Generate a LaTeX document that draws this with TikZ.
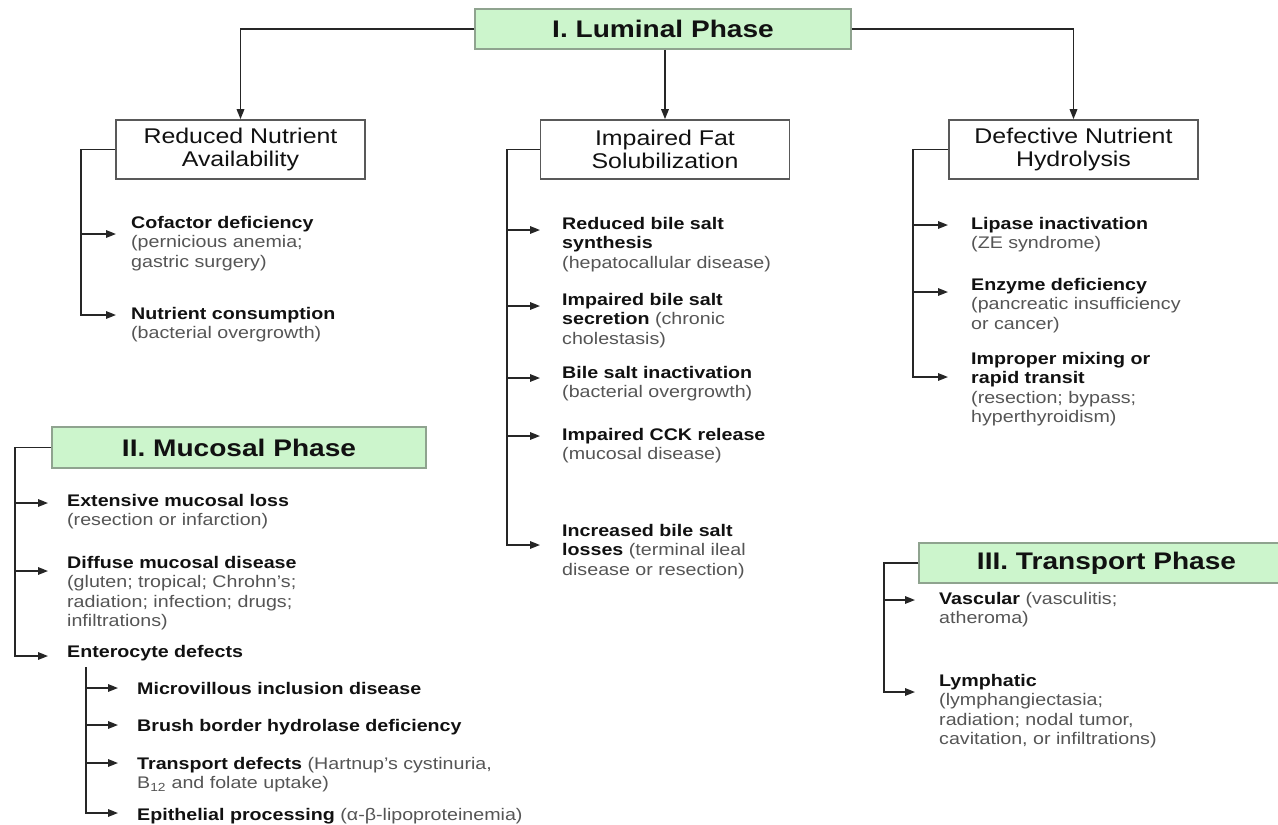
\documentclass[tikz,border=0pt]{standalone}
\usepackage{fontspec}
\setmainfont{Liberation Sans}[FakeStretch=1.17]
\usetikzlibrary{arrows.meta}
\definecolor{phasegreen}{HTML}{CCF5CC}
\definecolor{phaseborder}{HTML}{8FA38F}
\definecolor{linegray}{HTML}{262626}
\definecolor{maintext}{HTML}{111111}
\definecolor{subgray}{HTML}{555555}
\newcommand{\paren}[1]{{\color{subgray}#1}}
\begin{document}
\begin{tikzpicture}[x=1pt,y=-1pt,
 phase/.style={draw=phaseborder, line width=1.5pt, fill=phasegreen, text=maintext, font=\fontsize{24}{28}\selectfont\bfseries, inner sep=0pt},
 headbox/.style={draw=black!65, line width=1.6pt, fill=white, text=maintext, font=\fontsize{21.3}{23.5}\selectfont, align=center, minimum width=249pt, minimum height=59pt, inner sep=0pt},
 item/.style={anchor=north west, inner sep=0pt, align=left, text=maintext, font=\fontsize{16.8}{19.5}\selectfont},
 conn/.style={draw=linegray, line width=1.6pt},
 arr/.style={conn, -{Triangle[length=10pt,width=7.5pt]}},
]
\useasboundingbox[fill=white] (0,0) rectangle (1278,825);
\clip (0,0) rectangle (1278,825);

% phase boxes
\node[phase, minimum width=376pt, minimum height=40pt] (lum) at (663,29) {I. Luminal Phase};
\node[phase, minimum width=374pt, minimum height=41pt] (muc) at (239,447.5) {II. Mucosal Phase};
\node[phase, minimum width=375pt, minimum height=40pt] (tra) at (1106.5,563) {III. Transport Phase};

% heading boxes
\node[headbox] (rna) at (240.5,149.5) {Reduced Nutrient\\Availability};
\node[headbox] (ifs) at (665,149.5) {Impaired Fat\\Solubilization};
\node[headbox] (dnh) at (1073.5,149.5) {Defective Nutrient\\Hydrolysis};

\draw[arr] (lum.west) -| (rna.north);
\draw[arr] (lum.south -| ifs.north) -- (ifs.north);
\draw[arr] (lum.east) -| (dnh.north);

% left column
\node[item] (cof) at (131,216) {\textbf{Cofactor deficiency}\\\paren{(pernicious anemia;}\\\paren{gastric surgery)}};
\node[item] (nut) at (131,307) {\textbf{Nutrient consumption}\\\paren{(bacterial overgrowth)}};
\coordinate (L1) at (81,234);
\coordinate (L2) at (81,315);
\draw[arr, shorten >=15pt] (rna.west) -| (L2) -- (L2 -| nut.west);
\draw[arr, shorten >=15pt] (L1) -- (L1 -| cof.west);

% middle column
\node[item] (rbs) at (562,217) {\textbf{Reduced bile salt}\\\textbf{synthesis}\\\paren{(hepatocallular disease)}};
\node[item] (ibs) at (562,293) {\textbf{Impaired bile salt}\\\textbf{secretion} \paren{(chronic}\\\paren{cholestasis)}};
\node[item] (bsi) at (562,366) {\textbf{Bile salt inactivation}\\\paren{(bacterial overgrowth)}};
\node[item] (cck) at (562,428) {\textbf{Impaired CCK release}\\\paren{(mucosal disease)}};
\node[item] (ibl) at (562,524) {\textbf{Increased bile salt}\\\textbf{losses} \paren{(terminal ileal}\\\paren{disease or resection)}};
\coordinate (M1) at (507,230);
\coordinate (M2) at (507,306);
\coordinate (M3) at (507,378);
\coordinate (M4) at (507,436);
\coordinate (M5) at (507,545);
\draw[arr, shorten >=22pt] (ifs.west) -| (M5) -- (M5 -| ibl.west);
\draw[arr, shorten >=22pt] (M1) -- (M1 -| rbs.west);
\draw[arr, shorten >=22pt] (M2) -- (M2 -| ibs.west);
\draw[arr, shorten >=22pt] (M3) -- (M3 -| bsi.west);
\draw[arr, shorten >=22pt] (M4) -- (M4 -| cck.west);

% right column
\node[item] (lip) at (971,217) {\textbf{Lipase inactivation}\\\paren{(ZE syndrome)}};
\node[item] (enz) at (971,278) {\textbf{Enzyme deficiency}\\\paren{(pancreatic insufficiency}\\\paren{or cancer)}};
\node[item] (imp) at (971,352) {\textbf{Improper mixing or}\\\textbf{rapid transit}\\\paren{(resection; bypass;}\\\paren{hyperthyroidism)}};
\coordinate (R1) at (913,225);
\coordinate (R2) at (913,292);
\coordinate (R3) at (913,377);
\draw[arr, shorten >=23pt] (dnh.west) -| (R3) -- (R3 -| imp.west);
\draw[arr, shorten >=23pt] (R1) -- (R1 -| lip.west);
\draw[arr, shorten >=23pt] (R2) -- (R2 -| enz.west);

% mucosal phase
\node[item] (ext) at (67,494) {\textbf{Extensive mucosal loss}\\\paren{(resection or infarction)}};
\node[item] (dif) at (67,556) {\textbf{Diffuse mucosal disease}\\\paren{(gluten; tropical; Chrohn's;}\\\paren{radiation; infection; drugs;}\\\paren{infiltrations)}};
\node[item] (ent) at (67,645) {\textbf{Enterocyte defects}};
\coordinate (P1) at (15,503);
\coordinate (P2) at (15,571);
\coordinate (P3) at (15,656);
\draw[arr, shorten >=19pt] (muc.west) -| (P3) -- (P3 -| ent.west);
\draw[arr, shorten >=19pt] (P1) -- (P1 -| ext.west);
\draw[arr, shorten >=19pt] (P2) -- (P2 -| dif.west);

\node[item] (mvi) at (137,682) {\textbf{Microvillous inclusion disease}};
\node[item] (bbh) at (137,719) {\textbf{Brush border hydrolase deficiency}};
\node[item] (trd) at (137,757) {\textbf{Transport defects} \paren{(Hartnup's cystinuria,}\\\paren{B\textsubscript{12} and folate uptake)}};
\node[item] (epi) at (137,808) {\textbf{Epithelial processing} \paren{(α-β-lipoproteinemia)}};
\coordinate (E0) at (86,667);
\coordinate (E1) at (86,688);
\coordinate (E2) at (86,725);
\coordinate (E3) at (86,763);
\coordinate (E4) at (86,813);
\draw[arr, shorten >=19pt] (E0) -- (E4) -- (E4 -| epi.west);
\draw[arr, shorten >=19pt] (E1) -- (E1 -| mvi.west);
\draw[arr, shorten >=19pt] (E2) -- (E2 -| bbh.west);
\draw[arr, shorten >=19pt] (E3) -- (E3 -| trd.west);

% transport phase
\node[item] (vas) at (939,592) {\textbf{Vascular} \paren{(vasculitis;}\\\paren{atheroma)}};
\node[item] (lym) at (939,674) {\textbf{Lymphatic}\\\paren{(lymphangiectasia;}\\\paren{radiation; nodal tumor,}\\\paren{cavitation, or infiltrations)}};
\coordinate (T1) at (884,600);
\coordinate (T2) at (884,692);
\draw[arr, shorten >=24pt] (tra.west) -| (T2) -- (T2 -| lym.west);
\draw[arr, shorten >=24pt] (T1) -- (T1 -| vas.west);
\end{tikzpicture}
\end{document}
